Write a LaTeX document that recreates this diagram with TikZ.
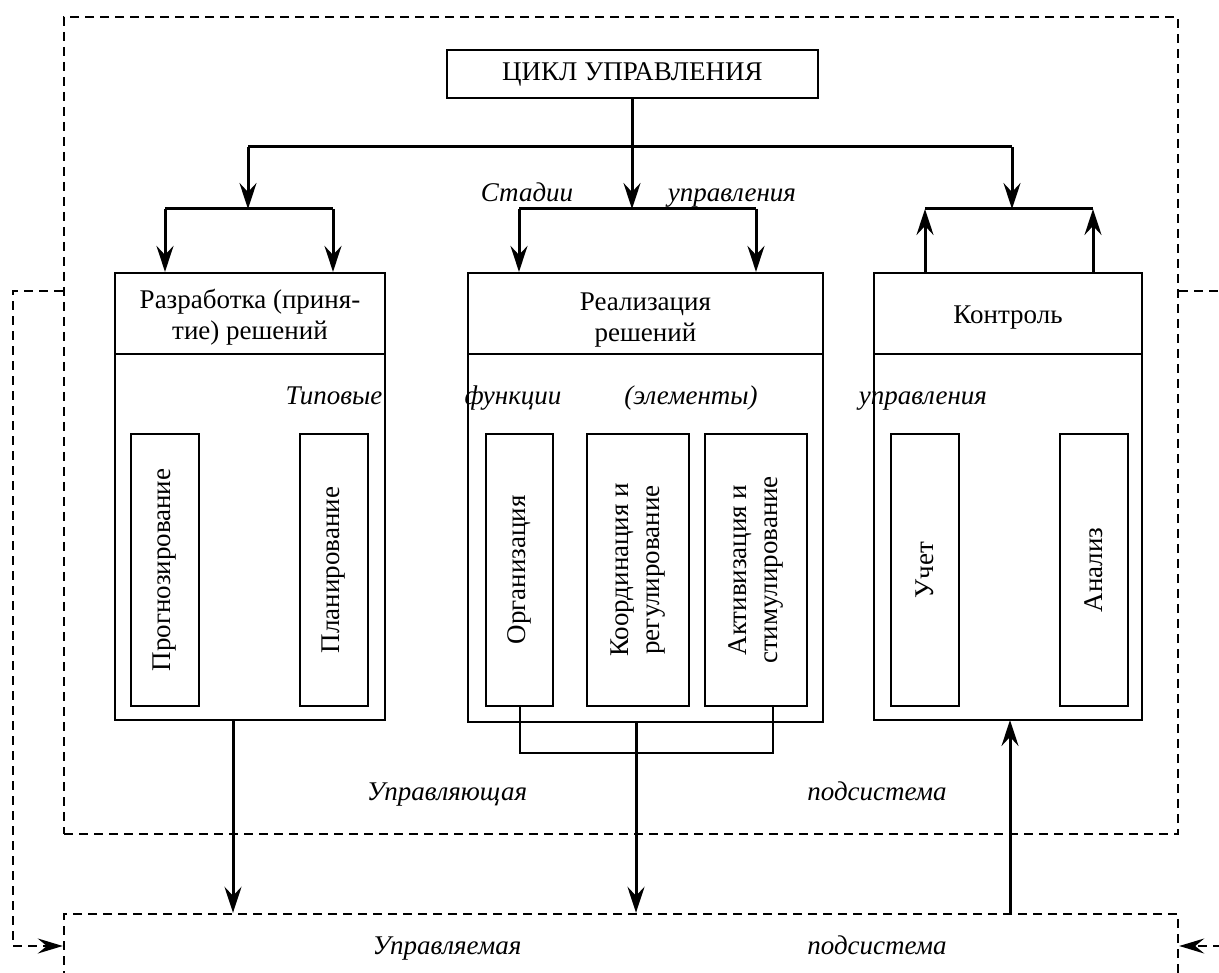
\documentclass[tikz,border=0pt]{standalone}
\usepackage{fontspec}
\setmainfont{Liberation Serif}
\usetikzlibrary{arrows.meta}
\begin{document}
\begin{tikzpicture}[x=1pt,y=-1pt,
  every node/.style={font=\fontsize{27}{31.5}\selectfont},
  box/.style={draw, line width=2.2pt, inner sep=0pt, align=center},
  txt/.style={inner sep=0pt, align=center},
  conn/.style={line width=3pt},
  thin/.style={line width=2.2pt},
  arr/.style={conn, -{Stealth[length=26pt,width=17pt,inset=9pt]}},
  dsh/.style={line width=2.4pt, dash pattern=on 9pt off 6pt},
  lab/.style={font=\fontsize{27}{31}\selectfont\itshape, inner sep=0pt, anchor=base}
]
\clip (0,0) rectangle (1219,973);
\fill[white] (0,0) rectangle (1219,973);

% subsystems (dashed)
\node[draw, dsh, minimum width=1114pt, minimum height=817pt, inner sep=0pt] (mgr) at (621,425.5) {};
\node[draw, dsh, minimum width=1114pt, minimum height=100pt, inner sep=0pt] (ctrl) at (621,964) {};

% top box
\node[box, minimum width=371pt, minimum height=48pt] (cycle) at (632.5,74) {ЦИКЛ УПРАВЛЕНИЯ};

% stage boxes: bodies
\node[box, minimum width=270pt, minimum height=366pt] (b1) at (250,537) {};
\node[box, minimum width=355pt, minimum height=368pt] (b2) at (645.5,538) {};
\node[box, minimum width=268pt, minimum height=366pt] (b3) at (1008,537) {};
% stage boxes: headers
\node[box, minimum width=270pt, minimum height=81pt] (h1) at (250,313.5) {};
\node[box, minimum width=355pt, minimum height=81pt] (h2) at (645.5,313.5) {};
\node[box, minimum width=268pt, minimum height=81pt] (h3) at (1008,313.5) {};
\node[txt] (t1) at (250,317) {Разработка (приня-\\тие) решений};
\node[txt] (t2) at (645.5,320) {Реализация\\решений};
\node[txt] (t3) at (1008,318) {Контроль};

% inner function boxes (rotated)
\node[box, minimum width=272pt, minimum height=68pt, rotate=90] (f1) at (165,570) {Прогнозирование};
\node[box, minimum width=272pt, minimum height=68pt, rotate=90] (f2) at (334,570) {Планирование};
\node[box, minimum width=272pt, minimum height=67pt, rotate=90] (f3) at (519.5,570) {Организация};
\node[box, minimum width=272pt, minimum height=102pt, rotate=90] (f4) at (638,570) {Координация и\\регулирование};
\node[box, minimum width=272pt, minimum height=102pt, rotate=90] (f5) at (756,570) {Активизация и\\стимулирование};
\node[box, minimum width=272pt, minimum height=68pt, rotate=90] (f6) at (925,570) {Учет};
\node[box, minimum width=272pt, minimum height=68pt, rotate=90] (f7) at (1094,570) {Анализ};

% distribution from the cycle
\coordinate (j0) at (632,147);
\coordinate (jL) at (248,147);
\coordinate (jR) at (1012,147);
\coordinate (bL) at (248,209);
\coordinate (bM) at (632,209);
\coordinate (bR) at (1012,209);
\coordinate (bL1) at (165,209);
\coordinate (bL2) at (333,209);
\coordinate (bM1) at (519,209);
\coordinate (bM2) at (756,209);
\coordinate (bR1) at (925,209);
\coordinate (bR2) at (1093,209);

\draw[conn] (cycle.south -| j0) -- (j0);
\draw[conn] (jL) -- (jR);
\draw[arr] (jL) -- (bL);
\draw[arr] (j0) -- (bM);
\draw[arr] (jR) -- (bR);
\draw[conn] (bL1) -- (bL2);
\draw[conn] (bM1) -- (bM2);
\draw[conn] (bR1) -- (bR2);
\draw[arr] (bL1) -- (bL1 |- h1.north);
\draw[arr] (bL2) -- (bL2 |- h1.north);
\draw[arr] (bM1) -- (bM1 |- h2.north);
\draw[arr] (bM2) -- (bM2 |- h2.north);
\draw[arr] (bR1 |- h3.north) -- (bR1);
\draw[arr] (bR2 |- h3.north) -- (bR2);

% bottom links
\coordinate (oL) at (520,753);
\coordinate (oR) at (773,753);
\coordinate (d1) at (233,720);
\coordinate (d2) at (636,722);
\coordinate (d3) at (1010,720);
\draw[thin] (f3.west -| oL) -- (oL) -- (oR) -- (f5.west -| oR);
\draw[arr] (d1) -- (d1 |- ctrl.north);
\draw[arr] (d2) -- (d2 |- ctrl.north);
\draw[arr] (d3 |- ctrl.north) -- (d3);

% feedback (dashed)
\coordinate (fbT) at (0,291);
\coordinate (fbB) at (0,946);
\coordinate (fl1) at (13,291);
\coordinate (fl2) at (13,946);
\coordinate (fr1) at (1233,291);
\coordinate (fr2) at (1233,946);
\draw[dsh, -{Stealth[length=25pt,width=15pt,inset=9pt]}] (mgr.west |- fbT) -- (fl1) -- (fl2) -- (ctrl.west |- fbB);
\draw[dsh, -{Stealth[length=25pt,width=15pt,inset=9pt]}] (mgr.east |- fbT) -- (fr1) -- (fr2) -- (ctrl.east |- fbB);

% italic labels
\node[lab] (l1) at (527,202) {Стадии};
\node[lab] (l2) at (732,202) {управления};
\node[lab] (l3) at (334,405) {Типовые};
\node[lab] (l4) at (513,405) {функции};
\node[lab] (l5) at (691,405) {(элементы)};
\node[lab] (l6) at (923,405) {управления};
\node[lab] (l7) at (447,800) {Управляющая};
\node[lab] (l8) at (877,800) {подсистема};
\node[lab] (l9) at (447,954) {Управляемая};
\node[lab] (l10) at (877,954) {подсистема};
\end{tikzpicture}
\end{document}
